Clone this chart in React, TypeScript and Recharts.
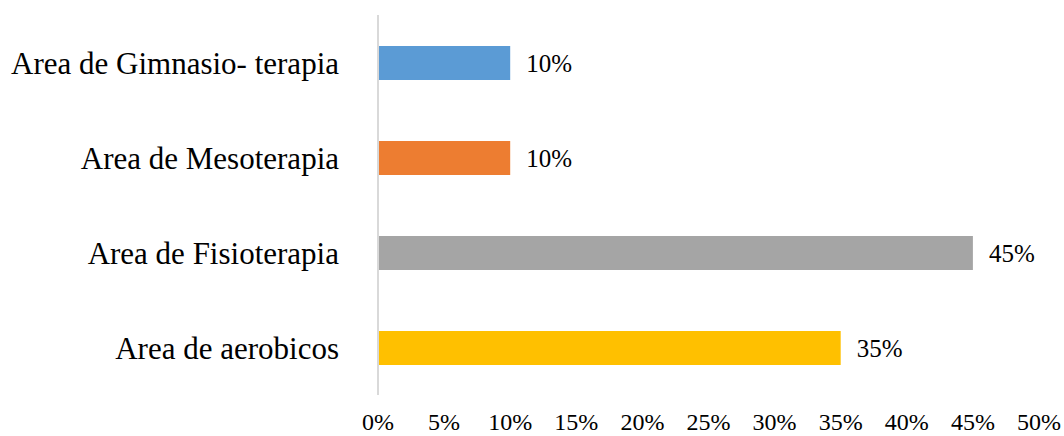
import React from 'react';
import { BarChart, Bar, XAxis, YAxis, Cell, LabelList } from 'recharts';

const areas = [
  'Area de Gimnasio- terapia',
  'Area de Mesoterapia',
  'Area de Fisioterapia',
  'Area de aerobicos',
];
const shares = [10, 10, 45, 35];
const barColors = ['#5B9BD5', '#ED7D31', '#A5A5A5', '#FFC000'];
const xTicks = [0, 5, 10, 15, 20, 25, 30, 35, 40, 45, 50];

const fontFamily = '"Liberation Serif", "Times New Roman", serif';

const data = areas.map((area, i) => ({ area, share: shares[i] }));

const pct = (v: number | string) => `${v}%`;

const App: React.FC = () => {
  return (
    <div style={{ position: 'absolute', left: 0, top: 0, width: 1064, height: 436, background: '#fff' }}>
      <BarChart
        width={1064}
        height={436}
        data={data}
        layout="vertical"
        margin={{ top: 15, right: 25, bottom: 0, left: 0 }}
      >
        <XAxis
          type="number"
          domain={[0, 50]}
          ticks={xTicks}
          tickFormatter={pct}
          axisLine={false}
          tickLine={false}
          tickSize={0}
          tickMargin={18}
          height={41}
          interval={0}
          tick={{ fill: '#000', fontSize: 24, fontFamily }}
        />
        <YAxis
          type="category"
          dataKey="area"
          width={378}
          axisLine={{ stroke: '#D9D9D9', strokeWidth: 2 }}
          tickLine={false}
          tickSize={0}
          tickMargin={39}
          tick={{ fill: '#000', fontSize: 31, fontFamily }}
        />
        <Bar dataKey="share" barSize={34} isAnimationActive={false}>
          {data.map((d, i) => (
            <Cell key={d.area} fill={barColors[i]} />
          ))}
          <LabelList
            dataKey="share"
            position="right"
            offset={16}
            formatter={pct}
            style={{ fill: '#000', fontSize: 25, fontFamily }}
          />
        </Bar>
      </BarChart>
    </div>
  );
};

export default App;
